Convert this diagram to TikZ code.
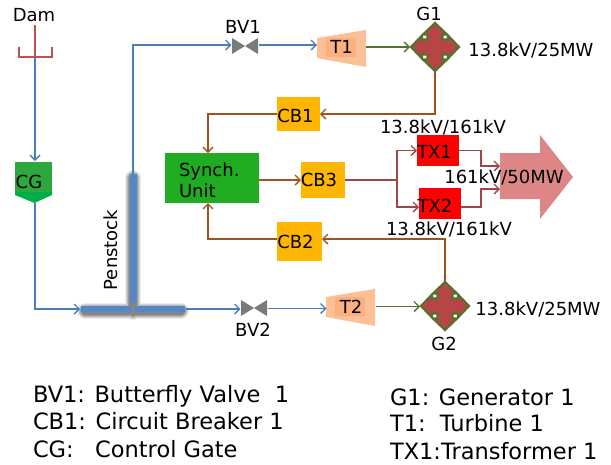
\documentclass[tikz,border=0pt]{standalone}
\usepackage{fontspec}
\setmainfont{DejaVu Sans}
\usetikzlibrary{arrows.meta,calc}
\definecolor{pipe}{HTML}{4A7EBB}
\definecolor{penfill}{HTML}{5586C8}
\definecolor{elec}{HTML}{A0521E}
\definecolor{txline}{HTML}{A04545}
\definecolor{gline}{HTML}{56702F}
\definecolor{genfill}{HTML}{B84545}
\definecolor{damred}{HTML}{C0504D}
\definecolor{cbfill}{HTML}{FFB600}
\definecolor{turb}{HTML}{FBC095}
\definecolor{turbin}{HTML}{FCB07F}
\definecolor{syn}{HTML}{20AC20}
\definecolor{cg}{HTML}{2CA83C}
\definecolor{cgd}{HTML}{00AE48}
\definecolor{bigarrow}{HTML}{DC8686}
\tikzset{
 x=1pt,y=-1pt,
 every node/.style={font=\fontsize{18}{20}\selectfont,inner sep=0pt,outer sep=0pt,text=black},
 tip/.style={-{Straight Barb[length=5pt,width=10pt,line width=1.4pt]}},
 water/.style={draw=pipe,line width=1.6pt,tip},
 power/.style={draw=elec,line width=1.7pt,tip},
 shaft/.style={draw=gline,line width=1.6pt,tip},
 bus/.style={draw=txline,line width=1.6pt,tip},
 breaker/.style={fill=cbfill,minimum width=44pt,minimum height=35pt},
 xfmr/.style={fill=red,minimum width=42pt,minimum height=31pt},
 legend/.style={anchor=base west,font=\fontsize{22.5}{26}\selectfont},
 genbox/.style={minimum width=50pt,minimum height=50pt},
 valvebox/.style={minimum width=27pt,minimum height=16pt},
 turbbox/.style={minimum width=49pt,minimum height=37pt},
 gen/.pic={\fill[genfill,draw=gline,line width=2.2pt,line join=miter]
   (0,-24)--(12,-12.5)--(7.5,-12.5)--(7.5,-7.5)--(13,-7.5)--(13,-11.5)--(24,0)--(13,11.5)--(13,7.5)--(7.5,7.5)--(7.5,12.5)--(12,12.5)--(0,24)
   --(-12,12.5)--(-7.5,12.5)--(-7.5,7.5)--(-13,7.5)--(-13,11.5)--(-24,0)--(-13,-11.5)--(-13,-7.5)--(-7.5,-7.5)--(-7.5,-12.5)--(-12,-12.5)--cycle;},
 valve/.pic={\fill[black!52] (-13,-8)--(0,0)--(-13,8)--cycle (13,-8)--(0,0)--(13,8)--cycle;},
 turbine/.pic={\fill[turb] (-25,-9)--(24,-17)--(24,20)--(-25,11)--cycle;\fill[turbin](-16,-9) rectangle (14,10);}
}
\begin{document}
\begin{tikzpicture}
\useasboundingbox (0,0) rectangle (611,464);
% dam
\node (dam) at (34,15) {Dam};
\draw[damred,line width=2pt] (19,47)--(19,57)--(52,57)--(52,47);
\draw[damred,line width=2pt] (35,25)--(35,57);
\coordinate (damfoot) at (35,57);
% control gate
\fill[cgd] (15,192)--(52,192)--(52,195)--(34.5,203)--(15,195)--cycle;
\fill[cg] (15,162) rectangle (52,192);
\node (cg) at (29,182) {CG};
\coordinate (cgtop) at (35,161);
\coordinate (cgbot) at (35,203);
\coordinate (cgturn) at (35,309);
% penstock
\foreach \w/\g in {16/7,14/17,12/28,10/38,8/48}{
 \draw[black!\g,line width=\w pt,line cap=round] (133,178)--(133,312);
 \draw[black!\g,line width=\w pt,line cap=round] (85,310.5)--(181,310.5);
}
\draw[penfill,line width=7pt] (133,174)--(133,303);
\draw[penfill,line width=6pt] (81,309)--(131,309) (135,309)--(185,309);
\coordinate (ptop) at (133,174);
\coordinate (pin) at (80,309);
\coordinate (pout) at (186,309);
\node[rotate=90] (pen) at (111,250) {Penstock};
% valves
\pic at (245,46) {valve};
\node[valvebox] (bv1) at (245,45) {};
\node (bv1t) at (243,27) {BV1};
\pic at (254,308) {valve};
\node[valvebox] (bv2) at (254,308.5) {};
\node (bv2t) at (253,330) {BV2};
% turbines
\pic at (342,47) {turbine};
\node[turbbox] (t1) at (341.5,47) {T1};
\pic at (351,306) {turbine};
\node[turbbox] (t2) at (351,306.5) {T2};
% generators
\pic at (435,47) {gen};
\pic at (445,306) {gen};
\node[genbox] (g1) at (435,47) {};
\node[genbox] (g2) at (445,306) {};
\node (g1t) at (429,14) {G1};
\node (g2t) at (444,344) {G2};
\node (g1v) at (531,50) {13.8kV/25MW};
\node (g2v) at (538,309) {13.8kV/25MW};
% boxes
\node[breaker,minimum width=43pt,minimum height=34pt] (cb1) at (298.5,114) {};
\node[breaker,minimum width=45pt,minimum height=39pt] (cb2) at (299.5,241.5) {};
\node[breaker,minimum height=36pt] (cb3) at (323,179.5) {};
\node (cb1t) at (295.5,116) {CB1};
\node (cb2t) at (295.5,242) {CB2};
\node (cb3t) at (319,180) {CB3};
\node[fill=syn,minimum width=94pt,minimum height=50pt] (sync) at (212,178) {};
\node[anchor=base west] (syn1) at (179,176) {Synch.};
\node[anchor=base west] (syn2) at (179,197) {Unit};
\fill[bigarrow] (500,153)--(540,153)--(540,135)--(573,177)--(540,219)--(540,199)--(500,199)--cycle;
\coordinate (bigin1) at (500,166);
\coordinate (bigin2) at (500,189);
\node[xfmr] (tx1) at (438,150.5) {};
\node[xfmr] (tx2) at (440,203.5) {};
\node (tx1t) at (434.5,152) {TX1};
\node (tx2t) at (435,206) {TX2};
\node (v161) at (504,177) {161kV/50MW};
\node (tv1) at (443,127) {13.8kV/161kV};
\node (tv2) at (449,229) {13.8kV/161kV};
% water connectors
\draw[water] (damfoot)--(cgtop);
\draw[water] (cgbot)--(cgturn)--(pin);
\draw[water] (ptop) |- (bv1.west);
\draw[water] (bv1.east)--(bv1.east -| t1.west);
\draw[water] (pout)--(pout -| bv2.west);
\draw[water] (bv2.east)--(bv2.east -| t2.west);
% shafts
\draw[shaft] (t1.east)--(t1.east -| g1.west);
\draw[shaft] (t2.east)--(t2.east -| g2.west);
% power
\draw[power] (g1.south) |- (cb1.east);
\draw[power] (cb1.west) -| ([xshift=-4pt]sync.north);
\draw[power] (g2.north) |- ([yshift=2.5pt]cb2.east);
\draw[power] ([yshift=2.5pt]cb2.west) -| ([xshift=-4pt]sync.south);
\draw[power] ([yshift=-2pt]sync.east)--([yshift=-2pt]sync.east -| cb3.west);
% transformer bus
\coordinate (busj) at (397,180);
\draw[bus] (busj -| cb3.east)--(busj) |- (tx1.west);
\draw[bus] (busj) |- ([yshift=-3.5pt]tx2.west);
\draw[bus] (tx1.east) -- ++(22,0) |- (bigin1);
\draw[bus] ([yshift=-3.5pt]tx2.east) -- ++(20,0) |- (bigin2);
% legend
\node[legend] (l1) at (33,402) {BV1: Butterfly Valve\ \ 1};
\node[legend] (l2) at (33,429) {CB1: Circuit Breaker 1};
\node[legend] (l3) at (33,457) {CG:\ \ \ Control Gate};
\node[legend] (l4) at (390,405) {G1: Generator 1};
\node[legend] (l5) at (390,431) {T1:\ \ Turbine 1};
\node[legend] (l6) at (390,459) {TX1:Transformer 1};
\end{tikzpicture}
\end{document}
